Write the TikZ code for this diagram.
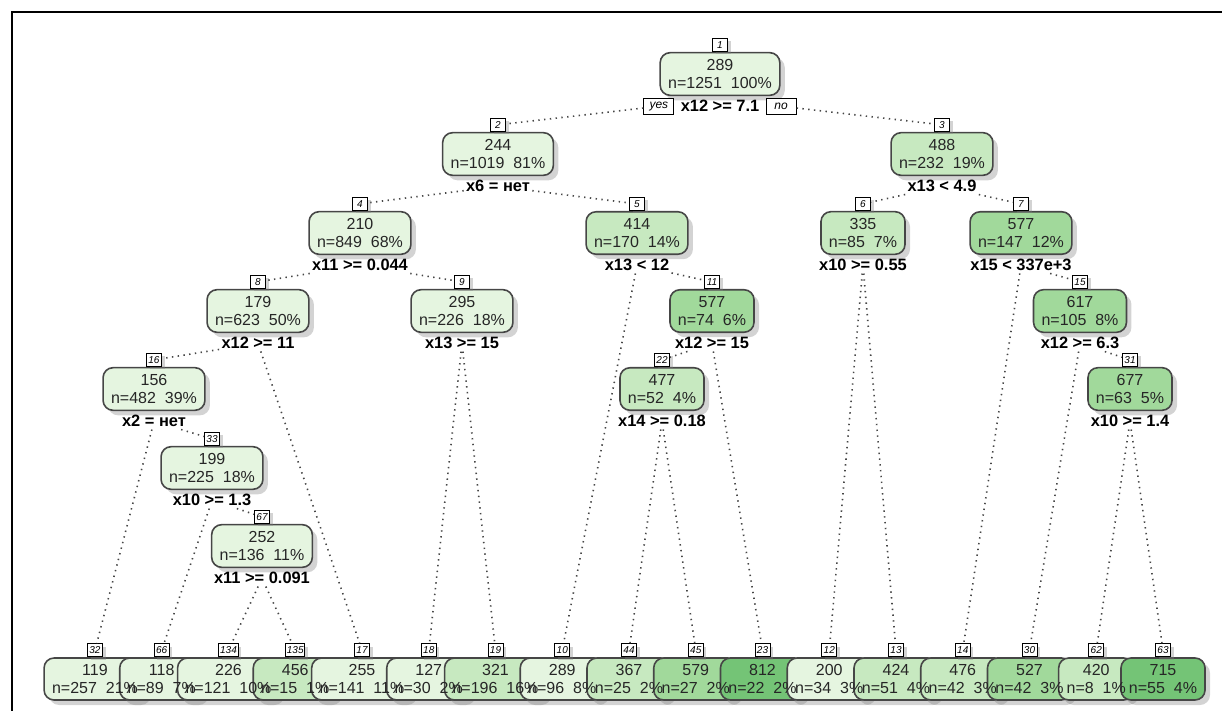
\documentclass[tikz,border=0pt]{standalone}
\usepackage{fontspec}
\setmainfont{Liberation Sans}
\usetikzlibrary{positioning,shadows}
\definecolor{node_pale}{RGB}{229,245,224}
\definecolor{node_light}{RGB}{199,233,192}
\definecolor{node_mid}{RGB}{161,217,155}
\definecolor{node_dark}{RGB}{116,196,118}
\definecolor{edge_gray}{RGB}{70,70,70}

\begin{document}
\begin{tikzpicture}[x=0.5pt,y=-0.5pt]
    \tikzstyle{treebox}=[draw=edge_gray, line width=0.8pt, rounded corners=5pt, align=center,
        minimum height=21pt, inner xsep=4pt, text=black!85, font=\fontsize{8}{9}\selectfont,
        drop shadow={shadow xshift=2.5pt, shadow yshift=-2.5pt, opacity=0.35}]
    \tikzstyle{leafbox}=[style=treebox, text height=0pt, text depth=0pt]
    \tikzstyle{leaftext}=[align=center, text=black!85, font=\fontsize{8}{9}\selectfont, inner sep=0pt]
    \tikzstyle{idbox}=[draw=black, fill=white, line width=0.5pt, minimum width=7.5pt, minimum height=6.5pt,
        inner sep=0.7pt, font=\fontsize{5}{5}\selectfont\itshape,
        drop shadow={shadow xshift=1.5pt, shadow yshift=-1.5pt, opacity=0.35}]
    \tikzstyle{split}=[text=black, font=\fontsize{8.2}{9}\selectfont\bfseries, inner sep=1pt]
    \tikzstyle{yesno}=[draw=black, fill=white, line width=0.5pt, minimum height=8pt, minimum width=15pt,
        inner sep=1pt, font=\fontsize{6}{6}\selectfont\itshape]
    \tikzstyle{branch}=[draw=edge_gray, line width=0.8pt, dash pattern=on 0.7pt off 2.2pt]

    \useasboundingbox (0,0) rectangle (1222,711);
    \draw[line width=1pt] (12,711) -- (12,12) -- (1222,12);

    % inner nodes
    \node[treebox, fill=node_pale] (n1) at (720,74) {289\\n=1251\ \ 100\%};
    \node[idbox, above=0pt of n1] (i1) {1};
    \node[split, below=1pt of n1] (s1) {x12 >= 7.1};
    \node[yesno, left=2pt of s1] (yes) {yes};
    \node[yesno, right=2pt of s1] (no) {no};

    \node[treebox, fill=node_pale] (n2) at (498,154) {244\\n=1019\ \ 81\%};
    \node[idbox, above=0pt of n2] (i2) {2};
    \node[split, below=1pt of n2] (s2) {x6 = нет};

    \node[treebox, fill=node_light] (n3) at (942,154) {488\\n=232\ \ 19\%};
    \node[idbox, above=0pt of n3] (i3) {3};
    \node[split, below=1pt of n3] (s3) {x13 < 4.9};

    \node[treebox, fill=node_pale] (n4) at (360,233) {210\\n=849\ \ 68\%};
    \node[idbox, above=0pt of n4] (i4) {4};
    \node[split, below=1pt of n4] (s4) {x11 >= 0.044};

    \node[treebox, fill=node_light] (n5) at (637,233) {414\\n=170\ \ 14\%};
    \node[idbox, above=0pt of n5] (i5) {5};
    \node[split, below=1pt of n5] (s5) {x13 < 12};

    \node[treebox, fill=node_light] (n6) at (863,233) {335\\n=85\ \ 7\%};
    \node[idbox, above=0pt of n6] (i6) {6};
    \node[split, below=1pt of n6] (s6) {x10 >= 0.55};

    \node[treebox, fill=node_mid] (n7) at (1021,233) {577\\n=147\ \ 12\%};
    \node[idbox, above=0pt of n7] (i7) {7};
    \node[split, below=1pt of n7] (s7) {x15 < 337e+3};

    \node[treebox, fill=node_pale] (n8) at (258,311) {179\\n=623\ \ 50\%};
    \node[idbox, above=0pt of n8] (i8) {8};
    \node[split, below=1pt of n8] (s8) {x12 >= 11};

    \node[treebox, fill=node_pale] (n9) at (462,311) {295\\n=226\ \ 18\%};
    \node[idbox, above=0pt of n9] (i9) {9};
    \node[split, below=1pt of n9] (s9) {x13 >= 15};

    \node[treebox, fill=node_mid] (n11) at (712,311) {577\\n=74\ \ 6\%};
    \node[idbox, above=0pt of n11] (i11) {11};
    \node[split, below=1pt of n11] (s11) {x12 >= 15};

    \node[treebox, fill=node_mid] (n15) at (1080,311) {617\\n=105\ \ 8\%};
    \node[idbox, above=0pt of n15] (i15) {15};
    \node[split, below=1pt of n15] (s15) {x12 >= 6.3};

    \node[treebox, fill=node_pale] (n16) at (154,389) {156\\n=482\ \ 39\%};
    \node[idbox, above=0pt of n16] (i16) {16};
    \node[split, below=1pt of n16] (s16) {x2 = нет};

    \node[treebox, fill=node_light] (n22) at (662,389) {477\\n=52\ \ 4\%};
    \node[idbox, above=0pt of n22] (i22) {22};
    \node[split, below=1pt of n22] (s22) {x14 >= 0.18};

    \node[treebox, fill=node_mid] (n31) at (1130,389) {677\\n=63\ \ 5\%};
    \node[idbox, above=0pt of n31] (i31) {31};
    \node[split, below=1pt of n31] (s31) {x10 >= 1.4};

    \node[treebox, fill=node_pale] (n33) at (212,468) {199\\n=225\ \ 18\%};
    \node[idbox, above=0pt of n33] (i33) {33};
    \node[split, below=1pt of n33] (s33) {x10 >= 1.3};

    \node[treebox, fill=node_pale] (n67) at (262,546) {252\\n=136\ \ 11\%};
    \node[idbox, above=0pt of n67] (i67) {67};
    \node[split, below=1pt of n67] (s67) {x11 >= 0.091};

    % leaves: boxes first, text on top
    \node[leafbox, fill=node_pale]  (l32)  at (95,679)     {\phantom{n=257\ \ 21\%}};
    \node[leafbox, fill=node_pale]  (l66)  at (161.75,679) {\phantom{n=89\ \ 7\%}};
    \node[leafbox, fill=node_pale]  (l134) at (228.5,679)  {\phantom{n=121\ \ 10\%}};
    \node[leafbox, fill=node_light] (l135) at (295.25,679) {\phantom{n=15\ \ 1\%}};
    \node[leafbox, fill=node_pale]  (l17)  at (362,679)    {\phantom{n=141\ \ 11\%}};
    \node[leafbox, fill=node_pale]  (l18)  at (428.75,679) {\phantom{n=30\ \ 2\%}};
    \node[leafbox, fill=node_light] (l19)  at (495.5,679)  {\phantom{n=196\ \ 16\%}};
    \node[leafbox, fill=node_pale]  (l10)  at (562.25,679) {\phantom{n=96\ \ 8\%}};
    \node[leafbox, fill=node_light] (l44)  at (629,679)    {\phantom{n=25\ \ 2\%}};
    \node[leafbox, fill=node_mid]   (l45)  at (695.75,679) {\phantom{n=27\ \ 2\%}};
    \node[leafbox, fill=node_dark]  (l23)  at (762.5,679)  {\phantom{n=22\ \ 2\%}};
    \node[leafbox, fill=node_pale]  (l12)  at (829.25,679) {\phantom{n=34\ \ 3\%}};
    \node[leafbox, fill=node_light] (l13)  at (896,679)    {\phantom{n=51\ \ 4\%}};
    \node[leafbox, fill=node_light] (l14)  at (962.75,679) {\phantom{n=42\ \ 3\%}};
    \node[leafbox, fill=node_mid]   (l30)  at (1029.5,679) {\phantom{n=42\ \ 3\%}};
    \node[leafbox, fill=node_light] (l62)  at (1096.25,679) {\phantom{n=8\ \ 1\%}};
    \node[leafbox, fill=node_dark]  (l63)  at (1163,679)   {\phantom{n=55\ \ 4\%}};

    \node[leaftext] (t32)  at (l32)  {119\\n=257\ \ 21\%};
    \node[leaftext] (t66)  at (l66)  {118\\n=89\ \ 7\%};
    \node[leaftext] (t134) at (l134) {226\\n=121\ \ 10\%};
    \node[leaftext] (t135) at (l135) {456\\n=15\ \ 1\%};
    \node[leaftext] (t17)  at (l17)  {255\\n=141\ \ 11\%};
    \node[leaftext] (t18)  at (l18)  {127\\n=30\ \ 2\%};
    \node[leaftext] (t19)  at (l19)  {321\\n=196\ \ 16\%};
    \node[leaftext] (t10)  at (l10)  {289\\n=96\ \ 8\%};
    \node[leaftext] (t44)  at (l44)  {367\\n=25\ \ 2\%};
    \node[leaftext] (t45)  at (l45)  {579\\n=27\ \ 2\%};
    \node[leaftext] (t23)  at (l23)  {812\\n=22\ \ 2\%};
    \node[leaftext] (t12)  at (l12)  {200\\n=34\ \ 3\%};
    \node[leaftext] (t13)  at (l13)  {424\\n=51\ \ 4\%};
    \node[leaftext] (t14)  at (l14)  {476\\n=42\ \ 3\%};
    \node[leaftext] (t30)  at (l30)  {527\\n=42\ \ 3\%};
    \node[leaftext] (t62)  at (l62)  {420\\n=8\ \ 1\%};
    \node[leaftext] (t63)  at (l63)  {715\\n=55\ \ 4\%};

    \node[idbox, above=0pt of l32]  (i32)  {32};
    \node[idbox, above=0pt of l66]  (i66)  {66};
    \node[idbox, above=0pt of l134] (i134) {134};
    \node[idbox, above=0pt of l135] (i135) {135};
    \node[idbox, above=0pt of l17]  (i17)  {17};
    \node[idbox, above=0pt of l18]  (i18)  {18};
    \node[idbox, above=0pt of l19]  (i19)  {19};
    \node[idbox, above=0pt of l10]  (i10)  {10};
    \node[idbox, above=0pt of l44]  (i44)  {44};
    \node[idbox, above=0pt of l45]  (i45)  {45};
    \node[idbox, above=0pt of l23]  (i23)  {23};
    \node[idbox, above=0pt of l12]  (i12)  {12};
    \node[idbox, above=0pt of l13]  (i13)  {13};
    \node[idbox, above=0pt of l14]  (i14)  {14};
    \node[idbox, above=0pt of l30]  (i30)  {30};
    \node[idbox, above=0pt of l62]  (i62)  {62};
    \node[idbox, above=0pt of l63]  (i63)  {63};

    % branches
    \path[branch]
     (yes) edge (i2)
     (no)  edge (i3)
     (s2) edge (i4)   (s2) edge (i5)
     (s3) edge (i6)   (s3) edge (i7)
     (s4) edge (i8)   (s4) edge (i9)
     (s5) edge (i10)  (s5) edge (i11)
     (s6) edge (i12)  (s6) edge (i13)
     (s7) edge (i14)  (s7) edge (i15)
     (s8) edge (i16)  (s8) edge (i17)
     (s9) edge (i18)  (s9) edge (i19)
     (s11) edge (i22) (s11) edge (i23)
     (s15) edge (i30) (s15) edge (i31)
     (s16) edge (i32) (s16) edge (i33)
     (s22) edge (i44) (s22) edge (i45)
     (s31) edge (i62) (s31) edge (i63)
     (s33) edge (i66) (s33) edge (i67)
     (s67) edge (i134) (s67) edge (i135);
\end{tikzpicture}
\end{document}
